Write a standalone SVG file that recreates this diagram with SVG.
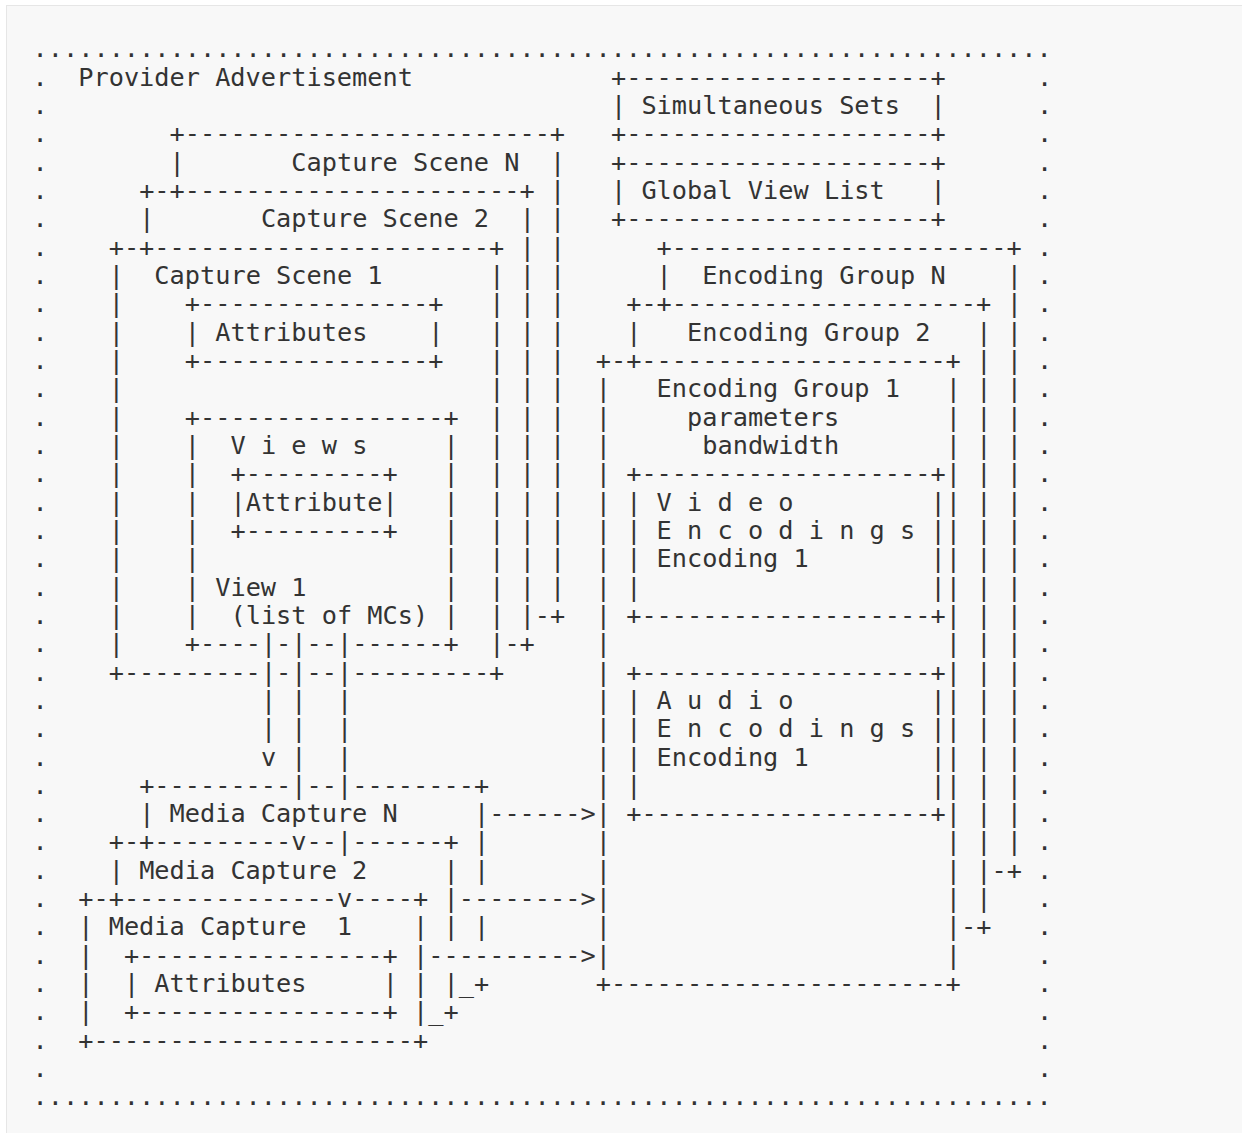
<svg xmlns="http://www.w3.org/2000/svg" width="1242" height="1133" viewBox="0 0 1242 1133">
<style>
.t { font-family: "DejaVu Sans Mono", "Liberation Mono", monospace; font-size: 25.28px; fill: #333333; }
</style>
<rect x="0" y="0" width="1242" height="1133" fill="#ffffff"/>
<rect x="6.5" y="5.5" width="1245" height="1140" fill="#f8f8f8" stroke="#e6e6e6" stroke-width="1"/>

<g id="frame">
<text class="t" x="32.6" y="57.2">...................................................................</text>
<text class="t" x="32.6" y="1105.4">...................................................................</text>
<text class="t" x="32.6 32.6 32.6 32.6 32.6 32.6 32.6 32.6 32.6 32.6 32.6 32.6 32.6 32.6 32.6 32.6 32.6 32.6 32.6 32.6 32.6 32.6 32.6 32.6 32.6 32.6 32.6 32.6 32.6 32.6 32.6 32.6 32.6 32.6 32.6 32.6" y="85.5 113.9 142.2 170.5 198.9 227.2 255.5 283.8 312.2 340.5 368.8 397.2 425.5 453.8 482.2 510.5 538.8 567.1 595.5 623.8 652.1 680.5 708.8 737.1 765.5 793.8 822.1 850.4 878.8 907.1 935.4 963.8 992.1 1020.4 1048.8 1077.1">....................................</text>
<text class="t" x="1037.12 1037.12 1037.12 1037.12 1037.12 1037.12 1037.12 1037.12 1037.12 1037.12 1037.12 1037.12 1037.12 1037.12 1037.12 1037.12 1037.12 1037.12 1037.12 1037.12 1037.12 1037.12 1037.12 1037.12 1037.12 1037.12 1037.12 1037.12 1037.12 1037.12 1037.12 1037.12 1037.12 1037.12 1037.12 1037.12" y="85.5 113.9 142.2 170.5 198.9 227.2 255.5 283.8 312.2 340.5 368.8 397.2 425.5 453.8 482.2 510.5 538.8 567.1 595.5 623.8 652.1 680.5 708.8 737.1 765.5 793.8 822.1 850.4 878.8 907.1 935.4 963.8 992.1 1020.4 1048.8 1077.1">....................................</text>
<text class="t" x="78.26" y="85.5">Provider Advertisement</text>
</g>

<g id="simultaneous-sets">
<text class="t" x="610.96" y="85.5">+--------------------+</text>
<text class="t" x="610.96" y="113.9">|</text>
<text class="t" x="641.4" y="113.9">Simultaneous Sets</text>
<text class="t" x="930.58" y="113.9">|</text>
<text class="t" x="610.96" y="142.2">+--------------------+</text>
</g>

<g id="global-view-list">
<text class="t" x="610.96" y="170.5">+--------------------+</text>
<text class="t" x="610.96" y="198.9">|</text>
<text class="t" x="641.4" y="198.9">Global View List</text>
<text class="t" x="930.58" y="198.9">|</text>
<text class="t" x="610.96" y="227.2">+--------------------+</text>
</g>

<g id="capture-scene-n">
<text class="t" x="169.58" y="142.2">+------------------------+</text>
<text class="t" x="169.58" y="170.5">|</text>
<text class="t" x="291.34" y="170.5">Capture Scene N</text>
<text class="t" x="550.08 550.08 550.08 550.08 550.08 550.08 550.08 550.08 550.08 550.08 550.08 550.08 550.08 550.08 550.08 550.08" y="170.5 198.9 227.2 255.5 283.8 312.2 340.5 368.8 397.2 425.5 453.8 482.2 510.5 538.8 567.1 595.5">||||||||||||||||</text>
<text class="t" x="534.86" y="623.8">-+</text>
</g>

<g id="capture-scene-2">
<text class="t" x="139.14" y="198.9">+-+----------------------+</text>
<text class="t" x="139.14" y="227.2">|</text>
<text class="t" x="260.9" y="227.2">Capture Scene 2</text>
<text class="t" x="519.64 519.64 519.64 519.64 519.64 519.64 519.64 519.64 519.64 519.64 519.64 519.64 519.64 519.64 519.64" y="227.2 255.5 283.8 312.2 340.5 368.8 397.2 425.5 453.8 482.2 510.5 538.8 567.1 595.5 623.8">|||||||||||||||</text>
<text class="t" x="504.42" y="652.1">-+</text>
</g>

<g id="capture-scene-1">
<text class="t" x="108.7" y="255.5">+-+----------------------+</text>
<text class="t" x="154.36" y="283.8">Capture Scene 1</text>
<text class="t" x="108.7 108.7 108.7 108.7 108.7 108.7 108.7 108.7 108.7 108.7 108.7 108.7 108.7 108.7" y="283.8 312.2 340.5 368.8 397.2 425.5 453.8 482.2 510.5 538.8 567.1 595.5 623.8 652.1">||||||||||||||</text>
<text class="t" x="489.2 489.2 489.2 489.2 489.2 489.2 489.2 489.2 489.2 489.2 489.2 489.2 489.2 489.2" y="283.8 312.2 340.5 368.8 397.2 425.5 453.8 482.2 510.5 538.8 567.1 595.5 623.8 652.1">||||||||||||||</text>
<text class="t" x="108.7" y="680.5">+---------</text>
<text class="t" x="276.12" y="680.5">-</text>
<text class="t" x="306.56" y="680.5">--</text>
<text class="t" x="352.22" y="680.5">---------+</text>
</g>

<g id="scene-attributes">
<text class="t" x="184.8" y="312.2">+---------------+</text>
<text class="t" x="184.8" y="340.5">|</text>
<text class="t" x="215.24" y="340.5">Attributes</text>
<text class="t" x="428.32" y="340.5">|</text>
<text class="t" x="184.8" y="368.8">+---------------+</text>
</g>

<g id="views">
<text class="t" x="184.8" y="425.5">+----------------+</text>
<text class="t" x="230.46" y="453.8">V i e w s</text>
<text class="t" x="184.8 184.8 184.8 184.8 184.8 184.8 184.8" y="453.8 482.2 510.5 538.8 567.1 595.5 623.8">|||||||</text>
<text class="t" x="443.54 443.54 443.54 443.54 443.54 443.54 443.54" y="453.8 482.2 510.5 538.8 567.1 595.5 623.8">|||||||</text>
<text class="t" x="184.8" y="652.1">+----</text>
<text class="t" x="276.12" y="652.1">-</text>
<text class="t" x="306.56" y="652.1">--</text>
<text class="t" x="352.22" y="652.1">------+</text>
</g>

<g id="view-attribute">
<text class="t" x="230.46" y="482.2">+---------+</text>
<text class="t" x="230.46" y="510.5">|Attribute|</text>
<text class="t" x="230.46" y="538.8">+---------+</text>
</g>

<g id="view-1">
<text class="t" x="215.24" y="595.5">View 1</text>
<text class="t" x="230.46" y="623.8">(list of MCs)</text>
</g>

<g id="encoding-group-n">
<text class="t" x="656.62" y="255.5">+----------------------+</text>
<text class="t" x="656.62" y="283.8">|</text>
<text class="t" x="702.28" y="283.8">Encoding Group N</text>
<text class="t" x="1006.68 1006.68 1006.68 1006.68 1006.68 1006.68 1006.68 1006.68 1006.68 1006.68 1006.68 1006.68 1006.68 1006.68 1006.68 1006.68 1006.68 1006.68 1006.68 1006.68 1006.68" y="283.8 312.2 340.5 368.8 397.2 425.5 453.8 482.2 510.5 538.8 567.1 595.5 623.8 652.1 680.5 708.8 737.1 765.5 793.8 822.1 850.4">|||||||||||||||||||||</text>
<text class="t" x="991.46" y="878.8">-+</text>
</g>

<g id="encoding-group-2">
<text class="t" x="626.18" y="312.2">+-+--------------------+</text>
<text class="t" x="626.18" y="340.5">|</text>
<text class="t" x="687.06" y="340.5">Encoding Group 2</text>
<text class="t" x="976.24 976.24 976.24 976.24 976.24 976.24 976.24 976.24 976.24 976.24 976.24 976.24 976.24 976.24 976.24 976.24 976.24 976.24 976.24 976.24 976.24" y="340.5 368.8 397.2 425.5 453.8 482.2 510.5 538.8 567.1 595.5 623.8 652.1 680.5 708.8 737.1 765.5 793.8 822.1 850.4 878.8 907.1">|||||||||||||||||||||</text>
<text class="t" x="961.02" y="935.4">-+</text>
</g>

<g id="encoding-group-1">
<text class="t" x="595.74" y="368.8">+-+--------------------+</text>
<text class="t" x="656.62" y="397.2">Encoding Group 1</text>
<text class="t" x="687.06" y="425.5">parameters</text>
<text class="t" x="702.28" y="453.8">bandwidth</text>
<text class="t" x="595.74 595.74 595.74 595.74 595.74 595.74 595.74 595.74 595.74 595.74 595.74 595.74 595.74 595.74 595.74 595.74 595.74 595.74 595.74 595.74 595.74" y="397.2 425.5 453.8 482.2 510.5 538.8 567.1 595.5 623.8 652.1 680.5 708.8 737.1 765.5 793.8 822.1 850.4 878.8 907.1 935.4 963.8">|||||||||||||||||||||</text>
<text class="t" x="945.8 945.8 945.8 945.8 945.8 945.8 945.8 945.8 945.8 945.8 945.8 945.8 945.8 945.8 945.8 945.8 945.8 945.8 945.8 945.8 945.8" y="397.2 425.5 453.8 482.2 510.5 538.8 567.1 595.5 623.8 652.1 680.5 708.8 737.1 765.5 793.8 822.1 850.4 878.8 907.1 935.4 963.8">|||||||||||||||||||||</text>
<text class="t" x="595.74" y="992.1">+----------------------+</text>
</g>

<g id="video-encodings">
<text class="t" x="626.18" y="482.2">+-------------------+</text>
<text class="t" x="656.62" y="510.5">V i d e o</text>
<text class="t" x="656.62" y="538.8">E n c o d i n g s</text>
<text class="t" x="656.62" y="567.1">Encoding 1</text>
<text class="t" x="626.18 626.18 626.18 626.18" y="510.5 538.8 567.1 595.5">||||</text>
<text class="t" x="930.58 930.58 930.58 930.58" y="510.5 538.8 567.1 595.5">||||</text>
<text class="t" x="626.18" y="623.8">+-------------------+</text>
</g>

<g id="audio-encodings">
<text class="t" x="626.18" y="680.5">+-------------------+</text>
<text class="t" x="656.62" y="708.8">A u d i o</text>
<text class="t" x="656.62" y="737.1">E n c o d i n g s</text>
<text class="t" x="656.62" y="765.5">Encoding 1</text>
<text class="t" x="626.18 626.18 626.18 626.18" y="708.8 737.1 765.5 793.8">||||</text>
<text class="t" x="930.58 930.58 930.58 930.58" y="708.8 737.1 765.5 793.8">||||</text>
<text class="t" x="626.18" y="822.1">+-------------------+</text>
</g>

<g id="media-capture-n">
<text class="t" x="139.14" y="793.8">+---------</text>
<text class="t" x="306.56" y="793.8">--</text>
<text class="t" x="352.22" y="793.8">--------+</text>
<text class="t" x="139.14" y="822.1">|</text>
<text class="t" x="169.58" y="822.1">Media Capture N</text>
<text class="t" x="473.98 473.98 473.98" y="822.1 850.4 878.8">|||</text>
<text class="t" x="473.98" y="935.4">|</text>
<text class="t" x="458.76" y="992.1">_+</text>
</g>

<g id="media-capture-2">
<text class="t" x="108.7" y="850.4">+-+---------</text>
<text class="t" x="306.56" y="850.4">--</text>
<text class="t" x="352.22" y="850.4">------+</text>
<text class="t" x="108.7" y="878.8">|</text>
<text class="t" x="139.14" y="878.8">Media Capture 2</text>
<text class="t" x="443.54 443.54 443.54" y="878.8 907.1 935.4">|||</text>
<text class="t" x="443.54" y="992.1">|</text>
<text class="t" x="428.32" y="1020.4">_+</text>
</g>

<g id="media-capture-1">
<text class="t" x="78.26" y="907.1">+-+--------------</text>
<text class="t" x="352.22" y="907.1">----+</text>
<text class="t" x="108.7" y="935.4" xml:space="preserve">Media Capture  1</text>
<text class="t" x="78.26 78.26 78.26 78.26" y="935.4 963.8 992.1 1020.4">||||</text>
<text class="t" x="413.1 413.1 413.1 413.1" y="935.4 963.8 992.1 1020.4">||||</text>
<text class="t" x="78.26" y="1048.8">+---------------------+</text>
</g>

<g id="media-capture-attributes">
<text class="t" x="123.92" y="963.8">+----------------+</text>
<text class="t" x="123.92" y="992.1">|</text>
<text class="t" x="154.36" y="992.1">Attributes</text>
<text class="t" x="382.66" y="992.1">|</text>
<text class="t" x="123.92" y="1020.4">+----------------+</text>
</g>

<g id="connectors">
<text class="t" x="260.9 260.9 260.9 260.9 260.9" y="652.1 680.5 708.8 737.1 765.5">||||v</text>
<text class="t" x="291.34 291.34 291.34 291.34 291.34 291.34" y="652.1 680.5 708.8 737.1 765.5 793.8">||||||</text>
<text class="t" x="291.34" y="850.4">v</text>
<text class="t" x="337 337 337 337 337 337" y="652.1 680.5 708.8 737.1 765.5 793.8">||||||</text>
<text class="t" x="337" y="850.4">|</text>
<text class="t" x="337" y="907.1">v</text>
<text class="t" x="489.2" y="822.1">------&gt;</text>
<text class="t" x="458.76" y="907.1">--------&gt;</text>
<text class="t" x="428.32" y="963.8">----------&gt;</text>
</g>
</svg>
